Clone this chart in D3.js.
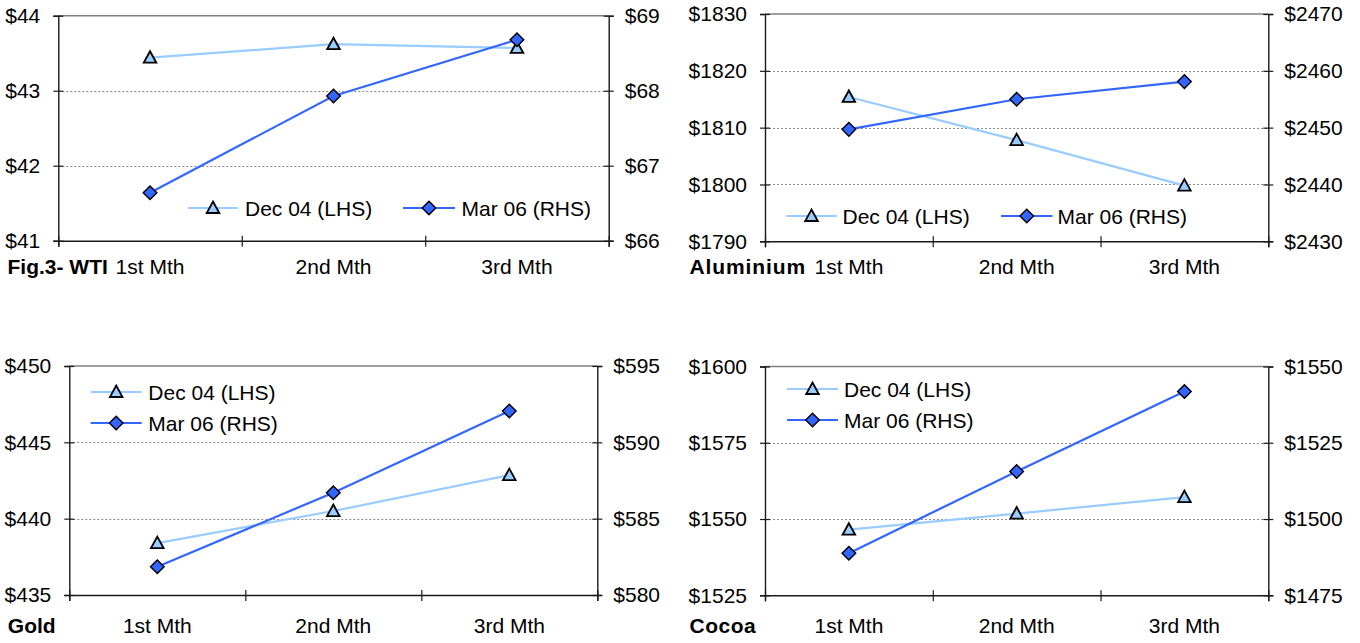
<!DOCTYPE html>
<html>
<head>
<meta charset="utf-8">
<script src="https://cdn.jsdelivr.net/npm/d3@7"></script>
<style>
  html, body { margin: 0; padding: 0; background: #fff; }
  svg { display: block; font-family: "Liberation Sans", Arial, sans-serif; }
</style>
</head>
<body>
<svg id="chart" width="1360" height="643"></svg>
<script>
// ---- data -------------------------------------------------------------
const months = ["1st Mth", "2nd Mth", "3rd Mth"];
const seriesNames = ["Dec 04 (LHS)", "Mar 06 (RHS)"];
const panelTitles = ["Fig.3- WTI", "Aluminium", "Gold", "Cocoa"];

const wtiDec04 = [43.44, 43.62, 43.57];
const wtiMar06 = [66.64, 67.93, 68.68];
const aluDec04 = [1815.4, 1807.8, 1799.8];
const aluMar06 = [2449.7, 2455.0, 2458.1];
const goldDec04 = [438.4, 440.5, 442.85];
const goldMar06 = [581.85, 586.7, 592.05];
const cocoaDec04 = [1546.5, 1551.8, 1557.2];
const cocoaMar06 = [1488.8, 1515.6, 1541.8];

const wtiLeftTicks = [41, 42, 43, 44];
const wtiRightTicks = [66, 67, 68, 69];
const aluLeftTicks = [1790, 1800, 1810, 1820, 1830];
const aluRightTicks = [2430, 2440, 2450, 2460, 2470];
const goldLeftTicks = [435, 440, 445, 450];
const goldRightTicks = [580, 585, 590, 595];
const cocoaLeftTicks = [1525, 1550, 1575, 1600];
const cocoaRightTicks = [1475, 1500, 1525, 1550];

// ---- styling / layout ---------------------------------------------------
const LIGHT = "#99CCFF", DARK = "#3366FF";
const FONT = 21;

const panels = [
  { title: panelTitles[0], left: wtiDec04, right: wtiMar06, lt: wtiLeftTicks, rt: wtiRightTicks,
    x0: 58.3, x1: 608.7, y0: 15.7, y1: 240.7, base: 274, titleX: 7.5, titleSpacing: 0,
    legend: { mode: "row", y: 208, items: [{ l0: 188, l1: 238, tx: 245 }, { l0: 403, l1: 455, tx: 461.5 }] } },
  { title: panelTitles[1], left: aluDec04, right: aluMar06, lt: aluLeftTicks, rt: aluRightTicks,
    x0: 765, x1: 1268.3, y0: 14, y1: 241.3, base: 274, titleX: 689.5, titleSpacing: 0.9,
    legend: { mode: "row", y: 216, items: [{ l0: 786, l1: 837, tx: 842.5 }, { l0: 1001, l1: 1052.5, tx: 1057.5 }] } },
  { title: panelTitles[2], left: goldDec04, right: goldMar06, lt: goldLeftTicks, rt: goldRightTicks,
    x0: 69.3, x1: 597.3, y0: 366, y1: 595, base: 633, titleX: 7.8, titleSpacing: 0,
    legend: { mode: "col", items: [{ l0: 90.7, l1: 141.7, tx: 148.3, y: 392 }, { l0: 90.7, l1: 141.7, tx: 148.3, y: 423 }] } },
  { title: panelTitles[3], left: cocoaDec04, right: cocoaMar06, lt: cocoaLeftTicks, rt: cocoaRightTicks,
    x0: 765, x1: 1268.3, y0: 366.5, y1: 595.3, base: 633, titleX: 689.5, titleSpacing: 0.5,
    legend: { mode: "col", items: [{ l0: 787, l1: 838, tx: 844, y: 389 }, { l0: 787, l1: 838, tx: 844, y: 420 }] } }
];

const svg = d3.select("#chart");

const triPath = "M0,-6.5L6.3,5L-6.3,5Z";
const diaPath = "M0,-6.8L6.8,0L0,6.8L-6.8,0Z";

function marker(g, kind, x, y) {
  g.append("path")
    .attr("d", kind === 0 ? triPath : diaPath)
    .attr("transform", `translate(${x},${y})`)
    .attr("fill", kind === 0 ? LIGHT : DARK)
    .attr("stroke", "#000")
    .attr("stroke-width", kind === 0 ? 1.8 : 1.4)
    .attr("stroke-linejoin", "miter");
}

panels.forEach(p => {
  const g = svg.append("g");
  const x = d3.scaleBand().domain(months).range([p.x0, p.x1]).padding(0);
  const edges = d3.scaleLinear().domain([0, months.length]).range([p.x0, p.x1]);
  const yL = d3.scaleLinear().domain(d3.extent(p.lt)).range([p.y1, p.y0]);
  const yR = d3.scaleLinear().domain(d3.extent(p.rt)).range([p.y1, p.y0]);
  const cx = m => x(m) + x.bandwidth() / 2;

  // dotted gridlines at interior ticks
  g.append("g").selectAll("line")
    .data(p.lt.slice(1, -1))
    .join("line")
    .attr("x1", p.x0).attr("x2", p.x1)
    .attr("y1", d => Math.round(yL(d)) + 0.5).attr("y2", d => Math.round(yL(d)) + 0.5)
    .attr("stroke", "#8c8c8c").attr("stroke-width", 1).attr("stroke-dasharray", "2,2");

  // plot area top border
  g.append("line")
    .attr("x1", p.x0).attr("x2", p.x1).attr("y1", p.y0).attr("y2", p.y0)
    .attr("stroke", "#808080").attr("stroke-width", 1.4);

  // left axis
  const aL = g.append("g").attr("transform", `translate(${p.x0},0)`)
    .call(d3.axisLeft(yL).tickValues(p.lt).tickFormat(d => "$" + d).tickSize(5).tickPadding(13));
  aL.selectAll(".tick line").attr("x1", 5);
  // right axis
  const aR = g.append("g").attr("transform", `translate(${p.x1},0)`)
    .call(d3.axisRight(yR).tickValues(p.rt).tickFormat(d => "$" + d).tickSize(5).tickPadding(11));
  aR.selectAll(".tick line").attr("x1", -5);
  // bottom axis: tick marks at category boundaries
  const aB = g.append("g").attr("transform", `translate(0,${p.y1})`)
    .call(d3.axisBottom(edges).tickValues(d3.range(months.length + 1)).tickFormat("").tickSize(6));
  aB.selectAll(".tick line").attr("y1", -5);
  // category labels at band centres
  const aC = g.append("g").attr("transform", `translate(0,${p.y1})`)
    .call(d3.axisBottom(x).tickSize(0).tickPadding(p.base - p.y1 - FONT * 0.71));
  aC.select(".domain").remove();

  [aL, aR, aB].forEach(a => {
    a.select(".domain").attr("stroke", "#1a1a1a").attr("stroke-width", 1.4);
    a.selectAll(".tick line").attr("stroke", "#1a1a1a").attr("stroke-width", 1.2);
  });
  [aL, aR, aC].forEach(a => a.selectAll("text").attr("font-size", FONT)
    .attr("font-family", "'Liberation Sans', Arial, sans-serif").attr("fill", "#000"));

  // bold panel title beside first category label
  g.append("text")
    .attr("x", p.titleX).attr("y", p.base)
    .attr("font-size", FONT).attr("font-weight", "bold").attr("fill", "#000")
    .attr("letter-spacing", p.titleSpacing)
    .text(p.title);

  // series lines
  const lineL = d3.line().x((d, i) => cx(months[i])).y(d => yL(d));
  const lineR = d3.line().x((d, i) => cx(months[i])).y(d => yR(d));
  g.append("path").attr("d", lineL(p.left)).attr("fill", "none")
    .attr("stroke", LIGHT).attr("stroke-width", 2.2);
  g.append("path").attr("d", lineR(p.right)).attr("fill", "none")
    .attr("stroke", DARK).attr("stroke-width", 2.2);

  // markers
  p.left.forEach((v, i) => marker(g, 0, cx(months[i]), yL(v)));
  p.right.forEach((v, i) => marker(g, 1, cx(months[i]), yR(v)));

  // legend
  const lg = g.append("g");
  p.legend.items.forEach((it, k) => {
    const ly = p.legend.mode === "row" ? p.legend.y : it.y;
    lg.append("line").attr("x1", it.l0).attr("x2", it.l1).attr("y1", ly).attr("y2", ly)
      .attr("stroke", k === 0 ? LIGHT : DARK).attr("stroke-width", 2.2);
    marker(lg, k, (it.l0 + it.l1) / 2, ly);
    lg.append("text").attr("x", it.tx).attr("y", ly)
      .attr("dominant-baseline", "central")
      .attr("font-size", FONT).attr("fill", "#000")
      .text(seriesNames[k]);
  });
});
</script>
</body>
</html>
